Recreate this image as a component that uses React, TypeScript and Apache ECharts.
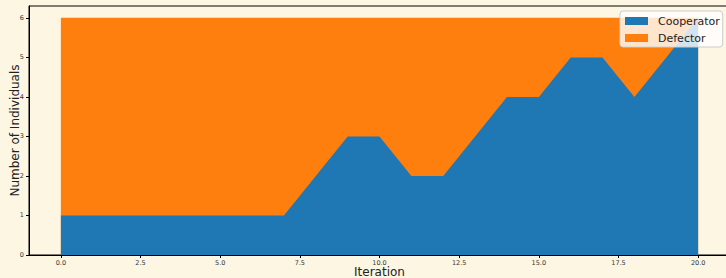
import React, { useEffect, useRef } from "react";
import * as echarts from "echarts";

const iterations = [0, 1, 2, 3, 4, 5, 6, 7, 8, 9, 10, 11, 12, 13, 14, 15, 16, 17, 18, 19, 20];
const cooperators = [1, 1, 1, 1, 1, 1, 1, 1, 2, 3, 3, 2, 2, 3, 4, 4, 5, 5, 4, 5, 6];
const defectors = [5, 5, 5, 5, 5, 5, 5, 5, 4, 3, 3, 4, 4, 3, 2, 2, 1, 1, 2, 1, 0];
const xTicks = [0, 2.5, 5, 7.5, 10, 12.5, 15, 17.5, 20];
const yTicks = [0, 1, 2, 3, 4, 5, 6];

export default function App() {
  const ref = useRef<HTMLDivElement>(null);
  useEffect(() => {
    document.body.style.margin = "0";
    const chart = echarts.init(ref.current!, null, { renderer: "svg" });
    const font = "DejaVu Sans";
    // stacked totals: cooperators at bottom, defectors on top
    const stackedTop = cooperators.map((c, i) => c + defectors[i]);
    chart.setOption({
      animation: false,
      backgroundColor: "#fdf6e3",
      textStyle: { fontFamily: font },
      grid: {
        left: 29,
        top: 6,
        width: 701,
        height: 249,
        outerBoundsMode: "none",
        containLabel: false,
        show: true,
        borderColor: "#000",
        borderWidth: 1,
      },
      legend: {
        left: 620,
        top: 11,
        orient: "vertical",
        itemWidth: 23,
        itemHeight: 8,
        itemGap: 3,
        icon: "rect",
        backgroundColor: "rgba(255,255,255,0.8)",
        borderColor: "#cccccc",
        borderWidth: 1,
        borderRadius: 3,
        padding: [3, 3, 2, 5],
        textStyle: {
          fontFamily: font,
          fontSize: 11,
          lineHeight: 14,
          color: "#222",
          padding: [0, 0, 0, 5],
        },
        data: ["Cooperator", "Defector"],
        z: 10,
      },
      xAxis: {
        type: "value",
        min: -1,
        max: 21,
        name: "Iteration",
        nameLocation: "middle",
        nameGap: 11,
        nameMoveOverlap: false,
        nameTextStyle: { fontFamily: font, fontSize: 12, color: "#222" },
        splitLine: { show: false },
        axisLine: { show: true, onZero: false, lineStyle: { color: "#000", width: 1 } },
        axisTick: { show: true, customValues: xTicks, length: 3, lineStyle: { color: "#000" } },
        axisLabel: {
          customValues: xTicks,
          fontSize: 6.5,
          color: "#333",
          margin: 4,
          formatter: (v: number) => v.toFixed(1),
        },
      },
      yAxis: {
        type: "value",
        min: 0,
        max: 6.3,
        name: "Number of Individuals",
        nameLocation: "middle",
        nameGap: 8,
        nameMoveOverlap: false,
        nameTextStyle: { fontFamily: font, fontSize: 12, color: "#222" },
        splitLine: { show: false },
        axisLine: { show: true, onZero: false, lineStyle: { color: "#000", width: 1 } },
        axisTick: { show: true, customValues: yTicks, length: 3, lineStyle: { color: "#000" } },
        axisLabel: {
          customValues: yTicks,
          fontSize: 6.5,
          color: "#333",
          margin: 5,
        },
      },
      series: [
        {
          name: "Defector",
          type: "line",
          symbol: "none",
          color: "#ff7f0e",
          z: 2,
          lineStyle: { width: 0 },
          areaStyle: { color: "#ff7f0e", opacity: 1 },
          data: iterations.map((x, i) => [x, stackedTop[i]]),
        },
        {
          name: "Cooperator",
          type: "line",
          symbol: "none",
          color: "#1f77b4",
          z: 3,
          lineStyle: { width: 0 },
          areaStyle: { color: "#1f77b4", opacity: 1 },
          data: iterations.map((x, i) => [x, cooperators[i]]),
        },
      ],
    });
    return () => chart.dispose();
  }, []);
  return <div ref={ref} style={{ width: 726, height: 278 }} />;
}
